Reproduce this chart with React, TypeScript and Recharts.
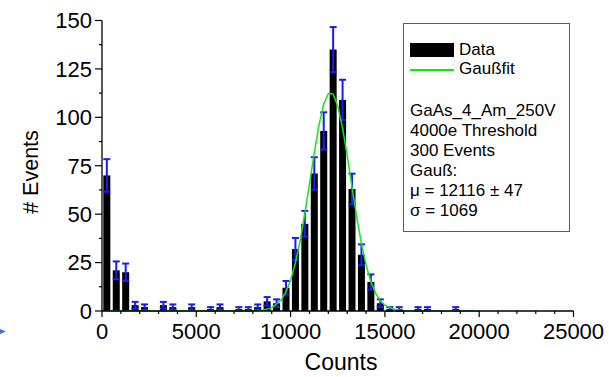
import React from 'react';
import { ComposedChart, Bar, Line, XAxis, YAxis, ErrorBar, Legend } from 'recharts';

// Histogram bins (bin width 500 counts), only the filled ones
const binCenters = [
  250, 750, 1250, 1750, 2250, 3250, 3750, 4750, 5750, 6250, 7250, 7750, 8250, 8750, 9250, 9750,
  10250, 10750, 11250, 11750, 12250, 12750, 13250, 13750, 14250, 14750, 15250, 15750, 16750, 17250, 18750,
];
const eventCounts = [
  70, 21, 20, 3, 2, 3, 2, 2, 1, 2, 1, 1, 2, 5, 4, 12,
  32, 45, 71, 93, 135, 109, 63, 29, 15, 4, 1, 1, 1, 1, 1,
];
const countErrors = [
  8.4, 4.6, 4.5, 1.7, 1.4, 1.7, 1.4, 1.4, 1, 1.4, 1, 1, 1.4, 2.2, 2, 3.5,
  5.7, 6.7, 8.4, 9.6, 11.6, 10.4, 7.9, 5.4, 3.9, 2, 1, 1, 1, 1, 1,
];

// Gaussian fit curve samples
const fitCounts = [
  250, 7500, 8000, 8500, 9000, 9500, 9750, 10000, 10250, 10500, 10750, 11000, 11250, 11500, 11750,
  12000, 12250, 12500, 12750, 13000, 13250, 13500, 13750, 14000, 14250, 14500, 14750, 15000, 15500,
  16000, 16500, 20000,
];
const fitValues = [
  0, 0, 0.1, 0.4, 1.6, 5.7, 9.8, 15.9, 24.6, 36.0, 50.0, 65.5, 81.4, 95.7, 106.6,
  112.3, 112.1, 105.9, 94.8, 80.3, 64.4, 48.9, 35.1, 23.9, 15.4, 9.4, 5.4, 3.0, 0.75,
  0.15, 0, 0,
];

const xMajorTicks = [0, 5000, 10000, 15000, 20000, 25000];
const xMinorTicks = [
  1000, 2000, 3000, 4000, 6000, 7000, 8000, 9000, 11000, 12000, 13000, 14000,
  16000, 17000, 18000, 19000, 21000, 22000, 23000, 24000,
];
const yMajorTicks = [0, 25, 50, 75, 100, 125, 150];
const yMinorTicks = [12.5, 37.5, 62.5, 87.5, 112.5, 137.5];

const infoLines = ['GaAs_4_Am_250V', '4000e Threshold', '300 Events', 'Gauß:', 'μ = 12116 ± 47', 'σ = 1069'];

const histData = binCenters.map((x, i) => ({ x, count: eventCounts[i], err: countErrors[i] }));
const fitData = fitCounts.map((x, i) => ({ x, fit: fitValues[i] }));

const xTicks = [...xMajorTicks, ...xMinorTicks].sort((a, b) => a - b);
const yTicks = [...yMajorTicks, ...yMinorTicks].sort((a, b) => a - b);

const FONT = '"Liberation Sans", Arial, Helvetica, sans-serif';
const BAR_COLOR = '#000000';
const ERR_COLOR = '#1a1aff';
const FIT_COLOR = '#14e614';
const BAR_WIDTH = 7;

const isMajorX = (v: number) => xMajorTicks.includes(v);
const isMajorY = (v: number) => yMajorTicks.includes(v);

const BottomTick = (props: any) => {
  const { x, y, payload } = props;
  const major = isMajorX(payload.value);
  return (
    <g>
      <line x1={x} x2={x} y1={y} y2={y + (major ? 6 : 3)} stroke="#000" strokeWidth={1.2} />
      {major && (
        <text x={x} y={y + 28} textAnchor="middle" fontFamily={FONT} fontSize={22} fill="#000">
          {payload.value}
        </text>
      )}
    </g>
  );
};

const TopTick = (props: any) => {
  const { x, y, payload } = props;
  const major = isMajorX(payload.value);
  return <line x1={x} x2={x} y1={y} y2={y + (major ? 4 : 3)} stroke="#000" strokeWidth={1} />;
};

const LeftTick = (props: any) => {
  const { x, y, payload } = props;
  const major = isMajorY(payload.value);
  return (
    <g>
      <line x1={x - (major ? 7 : 3)} x2={x} y1={y} y2={y} stroke="#000" strokeWidth={1.2} />
      {major && (
        <text x={x - 10} y={y + 7.8} textAnchor="end" fontFamily={FONT} fontSize={22} fill="#000">
          {payload.value}
        </text>
      )}
    </g>
  );
};

const RightTick = (props: any) => {
  const { x, y } = props;
  return <line x1={x - 3} x2={x} y1={y} y2={y} stroke="#000" strokeWidth={1} />;
};

// Fixed-width histogram column centred on the bin position
const HistBar = (props: any) => {
  const { x, y, width, height } = props;
  if (!height || height <= 0) return null;
  const cx = x + width / 2;
  return <rect x={cx - BAR_WIDTH / 2} y={y} width={BAR_WIDTH} height={height} fill={BAR_COLOR} />;
};

const InfoBox = () => (
  <div
    style={{
      position: 'relative',
      width: 167,
      height: 209,
      boxSizing: 'border-box',
      border: '1.5px solid #5a5a5a',
      background: '#fff',
      fontFamily: FONT,
      fontSize: 17,
      color: '#000',
    }}
  >
    <div style={{ position: 'absolute', left: 6, top: 19, width: 44, height: 14, background: BAR_COLOR }} />
    <div style={{ position: 'absolute', left: 55, top: 16, lineHeight: '20px' }}>Data</div>
    <div style={{ position: 'absolute', left: 6, top: 45, width: 44, height: 1.6, background: FIT_COLOR }} />
    <div style={{ position: 'absolute', left: 55, top: 35, lineHeight: '20px' }}>Gaußfit</div>
    <div style={{ position: 'absolute', left: 6, top: 77, lineHeight: '20px', whiteSpace: 'nowrap' }}>
      {infoLines.map((t) => (
        <div key={t}>{t}</div>
      ))}
    </div>
  </div>
);

export default function App() {
  return (
    <div style={{ position: 'absolute', left: 0, top: 0, width: 609, height: 377, background: '#fff' }}>
      <ComposedChart
        width={609}
        height={377}
        data={histData}
        margin={{ top: 20.5, right: 35.5, bottom: 0, left: 0 }}
      >
        <XAxis
          xAxisId="bottom"
          dataKey="x"
          type="number"
          domain={[0, 25000]}
          ticks={xTicks}
          interval={0}
          height={66}
          tickSize={0}
          tickMargin={0}
          tickLine={false}
          tick={<BottomTick />}
          axisLine={{ stroke: '#000', strokeWidth: 1.3 }}
          label={{
            content: () => (
              <text x={341} y={370} textAnchor="middle" fontFamily={FONT} fontSize={23} fill="#000">
                Counts
              </text>
            ),
          }}
        />
        <XAxis
          xAxisId="top"
          orientation="top"
          dataKey="x"
          type="number"
          domain={[0, 25000]}
          ticks={xTicks}
          interval={0}
          height={0}
          tickSize={0}
          tickMargin={0}
          tickLine={false}
          tick={<TopTick />}
          axisLine={{ stroke: '#000', strokeWidth: 1.3 }}
        />
        <YAxis
          yAxisId="left"
          type="number"
          domain={[0, 150]}
          ticks={yTicks}
          interval={0}
          width={102}
          tickSize={0}
          tickMargin={0}
          tickLine={false}
          tick={<LeftTick />}
          axisLine={{ stroke: '#000', strokeWidth: 1.3 }}
          label={{
            content: () => (
              <text
                x={38}
                y={172}
                transform="rotate(-90 38 172)"
                textAnchor="middle"
                fontFamily={FONT}
                fontSize={21.5}
                fill="#000"
              >
                # Events
              </text>
            ),
          }}
        />
        <YAxis
          yAxisId="right"
          orientation="right"
          type="number"
          domain={[0, 150]}
          ticks={yTicks}
          interval={0}
          width={0}
          tickSize={0}
          tickMargin={0}
          tickLine={false}
          tick={<RightTick />}
          axisLine={{ stroke: '#000', strokeWidth: 1.3 }}
        />
        <Bar
          xAxisId="bottom"
          yAxisId="left"
          dataKey="count"
          name="Data"
          fill={BAR_COLOR}
          shape={<HistBar />}
          isAnimationActive={false}
        >
          <ErrorBar dataKey="err" direction="y" width={3.5} stroke={ERR_COLOR} strokeWidth={2} />
        </Bar>
        <Line
          xAxisId="bottom"
          yAxisId="left"
          data={fitData}
          dataKey="fit"
          name="Gaußfit"
          type="linear"
          stroke={FIT_COLOR}
          strokeWidth={1.5}
          dot={false}
          activeDot={false}
          isAnimationActive={false}
        />
        <Legend
          layout="vertical"
          align="center"
          verticalAlign="middle"
          content={() => <InfoBox />}
          wrapperStyle={{ position: 'absolute', left: 403, top: 23, width: 167, height: 209 }}
        />
      </ComposedChart>
      <svg width={8} height={8} style={{ position: 'absolute', left: 0, top: 328 }}>
        <polygon points="0,1 6,3.5 0,6" fill="#3a6ff0" />
      </svg>
    </div>
  );
}
